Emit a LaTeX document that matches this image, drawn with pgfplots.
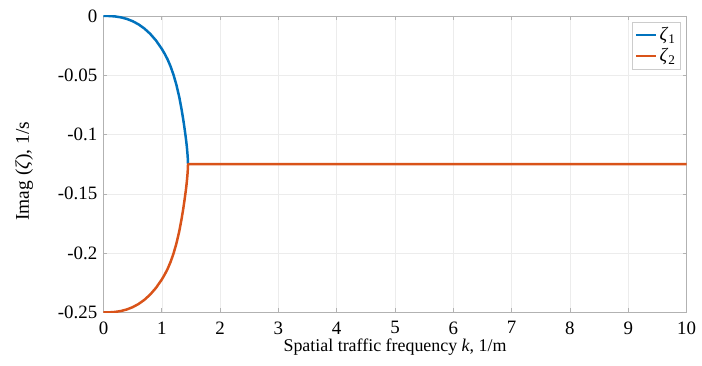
\documentclass[border=0pt]{standalone}
\usepackage{fontspec}
\setmainfont{Liberation Serif}
\usepackage{pgfplots}
\pgfplotsset{compat=1.18}
\definecolor{mblue}{rgb}{0,0.447,0.741}
\definecolor{morange}{rgb}{0.85,0.325,0.098}
\begin{document}
\fontsize{18}{21}\selectfont
\begin{tikzpicture}
\begin{axis}[
  scale only axis,
  width=586pt, height=298pt,
  xmin=0, xmax=10, ymin=-0.25, ymax=0,
  xtick={0,1,...,10},
  ytick={-0.25,-0.2,-0.15,-0.1,-0.05,0},
  yticklabels={-0.25,-0.2,-0.15,-0.1,-0.05,0},
  /pgf/number format/assume math mode=true,
  tick label style={font=\fontsize{19}{22}\selectfont},
  xticklabel style={yshift=-3pt},
  xlabel={Spatial traffic frequency \textit{k}, 1/m},
  ylabel={Imag (\textit{ζ}), 1/s},
  xlabel style={font=\fontsize{18}{21}\selectfont, at={(rel axis cs:0.5,0)}, anchor=base, inner sep=0pt, yshift=-39pt},
  ylabel style={font=\fontsize{19.5}{22}\selectfont, at={(rel axis cs:0,0.5)}, anchor=base, inner sep=0pt, yshift=75pt, xshift=-7pt},
  grid=major,
  major grid style={gray!15, line width=0.5pt},
  axis line style={gray!60, line width=0.6pt},
  tick style={gray!60, line width=0.6pt},
  tick align=inside,
  major tick length=4pt,
  xtick pos=both, ytick pos=both,
  legend style={at={(rel axis cs:1,1)}, anchor=north east, xshift=-6pt, yshift=-6pt,
    draw=gray!40, font=\fontsize{19}{22}\selectfont, inner xsep=3pt, inner ysep=3pt, row sep=1pt},
  legend cell align=left,
  legend image code/.code={\draw[#1, line width=2.5pt] (0pt,0pt) -- (20pt,0pt);},
]
\addplot[mblue, line width=2.5pt, line join=round] coordinates {
(0,0) (0.1,-0.00008) (0.2,-0.00044) (0.3,-0.00122) (0.4,-0.00252) (0.5,-0.00444)
(0.6,-0.00709) (0.7,-0.01057) (0.8,-0.01504) (0.9,-0.02068) (1.0,-0.02777) (1.05,-0.03198)
(1.1,-0.03672) (1.15,-0.0425) (1.2,-0.0495) (1.25,-0.0580) (1.3,-0.0685) (1.34,-0.0790)
(1.37,-0.0880) (1.39,-0.0948) (1.41,-0.1020) (1.42,-0.1060) (1.43,-0.1105) (1.44,-0.1160)
(1.445,-0.1195) (1.45,-0.125)
};
\addlegendentry{\textit{ζ}\textsubscript{1}}
\addplot[morange, line width=2.5pt, line join=round] coordinates {
(0,-0.25) (0.1,-0.24992) (0.2,-0.24956) (0.3,-0.24878) (0.4,-0.24748) (0.5,-0.24556)
(0.6,-0.24291) (0.7,-0.23943) (0.8,-0.23496) (0.9,-0.22932) (1.0,-0.22223) (1.05,-0.21802)
(1.1,-0.21328) (1.15,-0.2075) (1.2,-0.2005) (1.25,-0.1920) (1.3,-0.1815) (1.34,-0.1710)
(1.37,-0.1620) (1.39,-0.1552) (1.41,-0.1480) (1.42,-0.1440) (1.43,-0.1395) (1.44,-0.1340)
(1.445,-0.1305) (1.45,-0.125) (10,-0.125)
};
\addlegendentry{\textit{ζ}\textsubscript{2}}
\end{axis}
\path (current axis.south west) ++(-104pt,-53pt) coordinate (bbA);
\path (current axis.north east) ++(12pt,16pt) coordinate (bbB);
\path[use as bounding box] (bbA) rectangle (bbB);
\end{tikzpicture}
\end{document}
